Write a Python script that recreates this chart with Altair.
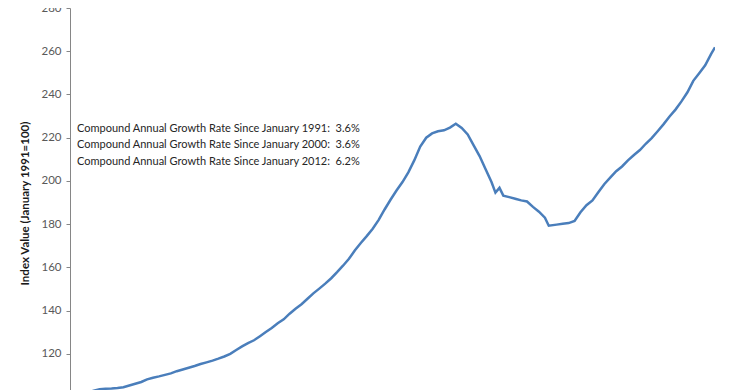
import altair as alt
import pandas as pd

# Monthly house price index (January 1991 = 100)
dates = [
    "1991-01", "1991-04", "1991-07", "1991-10",
    "1992-01", "1992-04", "1992-07", "1992-10",
    "1993-01", "1993-04", "1993-07", "1993-10",
    "1994-01", "1994-04", "1994-07", "1994-10",
    "1995-01", "1995-04", "1995-07", "1995-10",
    "1996-01", "1996-04", "1996-07", "1996-10",
    "1997-01", "1997-04", "1997-07", "1997-10",
    "1998-01", "1998-04", "1998-07", "1998-10",
    "1999-01", "1999-04", "1999-07", "1999-10",
    "2000-01", "2000-04", "2000-07", "2000-10",
    "2001-01", "2001-04", "2001-07", "2001-10",
    "2002-01", "2002-04", "2002-07", "2002-10",
    "2003-01", "2003-04", "2003-07", "2003-10",
    "2004-01", "2004-04", "2004-07", "2004-10",
    "2005-01", "2005-04", "2005-07", "2005-10",
    "2006-01", "2006-04", "2006-07", "2006-10",
    "2007-01", "2007-04", "2007-07", "2007-10",
    "2008-01", "2008-04", "2008-07", "2008-10", "2008-12",
    "2009-02", "2009-04", "2009-07", "2009-10",
    "2010-01", "2010-04", "2010-07", "2010-10",
    "2011-01", "2011-03", "2011-07", "2011-10",
    "2012-01", "2012-04", "2012-07", "2012-10",
    "2013-01", "2013-04", "2013-07", "2013-10",
    "2014-01", "2014-04", "2014-07", "2014-10",
    "2015-01", "2015-04", "2015-07", "2015-10",
    "2016-01", "2016-04", "2016-07", "2016-10",
    "2017-01", "2017-04", "2017-07", "2017-10",
    "2018-01", "2018-03",
]
index_values = [
    100.0, 100.6, 101.3, 102.0,
    103.0, 103.7, 103.9, 104.0,
    104.2, 104.6, 105.4, 106.2,
    107.0, 108.2, 109.0, 109.6,
    110.3, 111.0, 112.0, 112.8,
    113.6, 114.4, 115.3, 116.1,
    116.9, 117.8, 118.8, 120.0,
    121.8, 123.5, 125.0, 126.3,
    128.2, 130.1, 132.0, 134.2,
    136.0, 138.6, 140.9, 143.0,
    145.5, 148.0, 150.2, 152.5,
    155.0, 157.8, 160.8, 164.0,
    167.9, 171.3, 174.5, 177.9,
    182.0, 186.8, 191.3, 195.6,
    199.5, 204.0, 209.5, 215.9,
    220.0, 222.0, 223.0, 223.4,
    224.7, 226.5, 224.5, 221.5,
    216.5, 211.5, 205.5, 199.5, 194.6,
    196.8, 193.2, 192.5, 191.8,
    191.0, 190.5, 188.0, 185.8,
    183.0, 179.3, 179.8, 180.2,
    180.5, 181.5, 185.5, 188.8,
    191.0, 194.8, 198.5, 201.5,
    204.5, 206.7, 209.5, 212.0,
    214.3, 217.2, 219.8, 223.0,
    226.3, 229.8, 233.0, 236.8,
    241.0, 246.3, 249.8, 253.5,
    258.8, 261.8,
]

annotation_lines = [
    "Compound Annual Growth Rate Since January 1991:\u00a0 3.6%",
    "Compound Annual Growth Rate Since January 2000:\u00a0 3.6%",
    "Compound Annual Growth Rate Since January 2012:\u00a0 6.2%",
]
y_ticks = [120, 140, 160, 180, 200, 220, 240, 260, 280]
y_title = "Index Value (January 1991=100)"

df = pd.DataFrame({"date": [d + "-01" for d in dates], "value": index_values})

# horizontal reference line at the 2007 peak, running to the latest month
peak_i = index_values.index(max(index_values))
peak_df = pd.DataFrame({
    "date": [dates[peak_i] + "-01"],
    "end": [dates[-1] + "-01"],
    "value": [index_values[peak_i]],
})

FONT = "Lato"

x_scale = alt.Scale(nice=False, padding=0)
y_scale = alt.Scale(domain=[103.3, 280], nice=False, zero=False)
y_axis = alt.Axis(
    values=y_ticks,
    grid=False,
    domainColor="#868686",
    domainWidth=1,
    tickColor="#868686",
    tickSize=4,
    labelFont=FONT,
    labelFontSize=11.5,
    labelColor="#595959",
    labelPadding=5,
    title=y_title,
    titleFont=FONT,
    titleFontSize=11.5,
    titleFontWeight="bold",
    titleColor="#1a1a1a",
    titleX=-40,
    titleY=195,
    titleAngle=270,
    titleAlign="center",
)

peak_rule = alt.Chart(peak_df).mark_rule(color="#a6a6a6", strokeWidth=1.5, opacity=1).encode(
    x=alt.X("date:T", axis=None, scale=x_scale),
    x2=alt.X2("end"),
    y=alt.Y("value:Q", scale=y_scale, title=y_title),
)

line = alt.Chart(df).mark_line(color="#4a7ebb", strokeWidth=2.5, clip=True).encode(
    x=alt.X("date:T", axis=None, scale=x_scale),
    y=alt.Y("value:Q", scale=y_scale, axis=y_axis),
)

ann_layers = []
for i, t in enumerate(annotation_lines):
    ann_layers.append(
        alt.Chart(pd.DataFrame({"text": [t]})).mark_text(
            align="left", baseline="middle", font=FONT, fontSize=11, color="#262626"
        ).encode(
            x=alt.value(7),
            y=alt.value(120.5 + 16.8 * i),
            text="text:N",
        )
    )

chart = alt.layer(peak_rule, line, *ann_layers).properties(
    width=645,
    height=382,
    autosize=alt.AutoSizeParams(type="none"),
    padding={"left": 62, "top": 0, "right": 22, "bottom": 0},
    background="white",
).configure_view(stroke=None)

chart.save("out.html", embed_options={"renderer": "svg", "actions": False})
